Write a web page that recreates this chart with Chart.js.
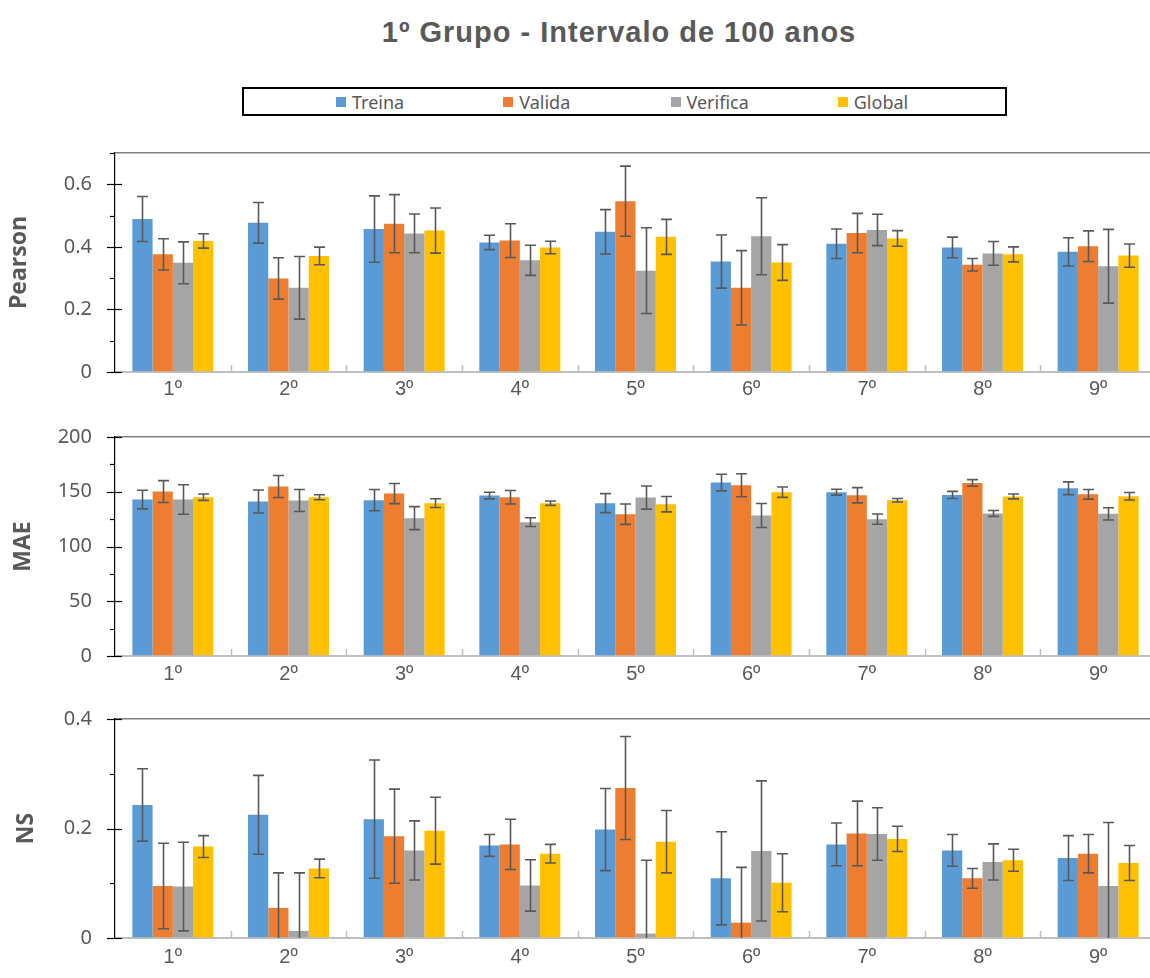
<!DOCTYPE html>
<html>
<head>
<meta charset="utf-8">
<title>1º Grupo - Intervalo de 100 anos</title>
<script src="https://cdn.jsdelivr.net/npm/chart.js@4.4.1/dist/chart.umd.min.js"></script>
<style>
  html, body { margin: 0; padding: 0; background: #fff; overflow: hidden; }
  body { width: 1150px; height: 978px; position: relative; font-family: "Noto Sans", sans-serif; }
  #title { position: absolute; left: 0; top: 15px; width: 1238px; text-align: center; letter-spacing: 1px;
           font: bold 29px "Liberation Sans", Arial, sans-serif; color: #595959; line-height: 34px; }
  #legend { position: absolute; left: 242px; top: 87px; width: 765px; height: 29px;
            box-sizing: border-box; border: 2px solid #000; display: flex; align-items: center;
            padding-left: 92px; }
  #legend .item { width: 171px; display: flex; align-items: center; font-size: 18px; color: #595959; }
  #legend .box { width: 10px; height: 10px; margin-right: 6px; }
  canvas { position: absolute; left: 0; }
</style>
</head>
<body>
<div id="title">1º Grupo - Intervalo de 100 anos</div>
<div id="legend"></div>
<canvas id="pearsonChart" width="1160" height="262" style="top:140px"></canvas>
<canvas id="maeChart" width="1160" height="270" style="top:420px"></canvas>
<canvas id="nsChart" width="1160" height="278" style="top:700px"></canvas>

<script>
// Categories and series
const categories = ['1º', '2º', '3º', '4º', '5º', '6º', '7º', '8º', '9º'];
const seriesNames = ['Treina', 'Valida', 'Verifica', 'Global'];
const seriesColors = ['#5B9BD5', '#ED7D31', '#A5A5A5', '#FFC000'];

// Pearson values and error bars
const pearsonTreina = [0.489, 0.477, 0.457, 0.414, 0.448, 0.353, 0.410, 0.398, 0.384];
const pearsonValida = [0.376, 0.299, 0.474, 0.420, 0.546, 0.269, 0.444, 0.343, 0.402];
const pearsonVerifica = [0.349, 0.269, 0.443, 0.357, 0.324, 0.434, 0.454, 0.379, 0.338];
const pearsonGlobal = [0.419, 0.371, 0.452, 0.398, 0.432, 0.350, 0.427, 0.376, 0.372];
const pearsonTreinaErr = [0.072, 0.065, 0.106, 0.023, 0.071, 0.085, 0.047, 0.033, 0.045];
const pearsonValidaErr = [0.050, 0.066, 0.093, 0.054, 0.112, 0.119, 0.063, 0.020, 0.049];
const pearsonVerificaErr = [0.067, 0.100, 0.062, 0.048, 0.137, 0.123, 0.050, 0.038, 0.118];
const pearsonGlobalErr = [0.023, 0.028, 0.072, 0.020, 0.056, 0.057, 0.025, 0.024, 0.037];

// MAE values and error bars
const maeTreina = [142.9, 141.1, 142.3, 146.5, 139.6, 158.4, 149.6, 147.1, 153.2];
const maeValida = [150.2, 154.8, 148.4, 145.0, 129.5, 155.9, 146.8, 158.1, 147.7];
const maeVerifica = [142.9, 142.0, 125.9, 122.2, 144.7, 128.3, 125.0, 130.2, 129.8];
const maeGlobal = [145.0, 145.0, 139.6, 139.6, 138.6, 149.6, 142.3, 145.7, 145.9];
const maeTreinaErr = [8.5, 10.5, 9.7, 3.0, 8.7, 7.6, 2.7, 3.2, 5.8];
const maeValidaErr = [10.0, 10.0, 9.2, 6.2, 9.3, 10.5, 7.0, 3.0, 4.4];
const maeVerificaErr = [13.5, 10.0, 10.5, 4.0, 10.6, 11.0, 4.7, 2.7, 5.6];
const maeGlobalErr = [2.9, 2.3, 4.0, 2.0, 7.0, 4.7, 1.6, 2.2, 3.4];

// NS values and error bars
const nsTreina = [0.243, 0.225, 0.217, 0.169, 0.198, 0.109, 0.171, 0.160, 0.146];
const nsValida = [0.095, 0.055, 0.186, 0.171, 0.274, 0.028, 0.191, 0.109, 0.154];
const nsVerifica = [0.094, 0.013, 0.160, 0.096, 0.008, 0.159, 0.190, 0.139, 0.095];
const nsGlobal = [0.167, 0.127, 0.196, 0.154, 0.176, 0.101, 0.181, 0.142, 0.137];
const nsTreinaErr = [0.066, 0.072, 0.108, 0.020, 0.075, 0.085, 0.039, 0.029, 0.041];
const nsValidaErr = [0.078, 0.064, 0.086, 0.046, 0.094, 0.101, 0.059, 0.018, 0.035];
const nsVerificaErr = [0.081, 0.106, 0.054, 0.047, 0.134, 0.128, 0.048, 0.033, 0.116];
const nsGlobalErr = [0.020, 0.017, 0.061, 0.017, 0.057, 0.053, 0.023, 0.020, 0.032];

// Tick labels shown on each y axis
const pearsonTicks = [0, 0.2, 0.4, 0.6];
const maeTicks = [0, 50, 100, 150, 200];
const nsTicks = [0, 0.2, 0.4];

// Draws the error bars on top of the bars
const errorBarPlugin = {
    id: 'errorBars',
    afterDatasetsDraw(chart) {
        const { ctx, chartArea, scales: { y } } = chart;
        ctx.save();
        ctx.beginPath();
        ctx.rect(chartArea.left, chartArea.top - 2, chartArea.right - chartArea.left, chartArea.bottom - chartArea.top + 2);
        ctx.clip();
        ctx.strokeStyle = '#595959';
        ctx.lineWidth = 1.6;
        chart.data.datasets.forEach((dataset, i) => {
            const meta = chart.getDatasetMeta(i);
            meta.data.forEach((bar, j) => {
                const value = dataset.data[j];
                const err = dataset.errors[j];
                const top = y.getPixelForValue(value + err);
                const bottom = y.getPixelForValue(value - err);
                const x = Math.round(bar.x) + 0.5;
                ctx.beginPath();
                ctx.moveTo(x, top);
                ctx.lineTo(x, bottom);
                ctx.moveTo(x - 5.5, top);
                ctx.lineTo(x + 5.5, top);
                ctx.moveTo(x - 5.5, bottom);
                ctx.lineTo(x + 5.5, bottom);
                ctx.stroke();
            });
        });
        ctx.restore();
    }
};

// Draws the y tick marks (long for labelled, short for the others) and the category separators
const axisMarksPlugin = {
    id: 'axisMarks',
    afterDraw(chart) {
        const { ctx, chartArea, scales: { x, y } } = chart;
        ctx.save();
        ctx.strokeStyle = '#000';
        ctx.lineWidth = 1.2;
        y.ticks.forEach(tick => {
            const py = Math.round(y.getPixelForValue(tick.value)) + 0.5;
            const major = tick.label !== '';
            ctx.beginPath();
            ctx.moveTo(chartArea.left - (major ? 8 : 5), py);
            ctx.lineTo(chartArea.left + (major ? 7 : 0), py);
            ctx.stroke();
        });

        ctx.strokeStyle = '#BFBFBF';
        ctx.lineWidth = 1.5;
        const half = (x.getPixelForValue(1) - x.getPixelForValue(0)) / 2;
        for (let i = 1; i <= categories.length; i++) {
            const px = Math.round(x.getPixelForValue(i) - half) + 0.5;
            ctx.beginPath();
            ctx.moveTo(px, chartArea.bottom);
            ctx.lineTo(px, chartArea.bottom - 7);
            ctx.stroke();
        }
        ctx.restore();
    }
};

// Function to build the legend box
function buildLegend() {
    const legend = document.getElementById('legend');
    seriesNames.forEach((name, i) => {
        const item = document.createElement('div');
        item.className = 'item';
        item.innerHTML = `<span class="box" style="background:${seriesColors[i]}"></span><span>${name}</span>`;
        legend.appendChild(item);
    });
}

// Function to create one of the three panels
function createPanel(canvasId, axisTitle, values, errors, labelTicks, max, minorStep, layout) {
    const isLabelled = v => labelTicks.some(t => Math.abs(t - v) < 1e-6);

    new Chart(document.getElementById(canvasId), {
        type: 'bar',
        data: {
            labels: categories,
            datasets: seriesNames.map((name, i) => ({
                label: name,
                data: values[i],
                errors: errors[i],
                backgroundColor: seriesColors[i],
                borderWidth: 0,
                categoryPercentage: 0.7,
                barPercentage: 1.0
            }))
        },
        options: {
            responsive: false,
            animation: false,
            devicePixelRatio: 1,
            layout: { padding: { top: layout.padTop, right: 4, left: 0, bottom: 0 } },
            plugins: {
                legend: { display: false },
                tooltip: { enabled: false }
            },
            scales: {
                x: {
                    z: 1,
                    afterFit: scale => { scale.height = layout.xHeight; },
                    grid: { display: false, drawTicks: false },
                    border: { display: true, color: '#BFBFBF', width: 2 },
                    ticks: {
                        color: '#595959',
                        font: { family: 'Liberation Sans', size: 20 },
                        padding: layout.labelPad,
                        maxRotation: 0
                    }
                },
                y: {
                    z: 1,
                    min: 0,
                    max: max,
                    afterFit: scale => {
                        scale.width = 115;
                        scale.paddingTop = 0;
                        scale.paddingBottom = 0;
                    },
                    grid: {
                        drawTicks: false,
                        lineWidth: 1.5,
                        color: ctx => ctx.tick && Math.abs(ctx.tick.value - max) < 1e-6 ? '#808080' : 'rgba(0,0,0,0)'
                    },
                    border: { display: true, color: '#000', width: 1.2 },
                    ticks: {
                        stepSize: minorStep,
                        autoSkip: false,
                        padding: 23,
                        color: '#595959',
                        font: { family: 'Noto Sans', size: 20 },
                        callback: value => isLabelled(value) ? String(parseFloat(value.toFixed(2))) : ''
                    },
                    title: {
                        display: true,
                        text: axisTitle,
                        color: '#595959',
                        font: { family: 'Open Sans', size: 23, weight: 'bold' },
                        padding: { top: layout.titlePad, bottom: 0 }
                    }
                }
            }
        },
        plugins: [errorBarPlugin, axisMarksPlugin]
    });
}

document.addEventListener('DOMContentLoaded', () => {
    buildLegend();

    createPanel('pearsonChart', 'Pearson',
        [pearsonTreina, pearsonValida, pearsonVerifica, pearsonGlobal],
        [pearsonTreinaErr, pearsonValidaErr, pearsonVerificaErr, pearsonGlobalErr],
        pearsonTicks, 0.7, 0.1, { padTop: 13, xHeight: 30, labelPad: 5, titlePad: 6 });

    createPanel('maeChart', 'MAE',
        [maeTreina, maeValida, maeVerifica, maeGlobal],
        [maeTreinaErr, maeValidaErr, maeVerificaErr, maeGlobalErr],
        maeTicks, 200, 25, { padTop: 17, xHeight: 34, labelPad: 6, titlePad: 10 });

    createPanel('nsChart', 'NS',
        [nsTreina, nsValida, nsVerifica, nsGlobal],
        [nsTreinaErr, nsValidaErr, nsVerificaErr, nsGlobalErr],
        nsTicks, 0.4, 0.1, { padTop: 19, xHeight: 40, labelPad: 7, titlePad: 13 });
});
</script>
</body>
</html>
